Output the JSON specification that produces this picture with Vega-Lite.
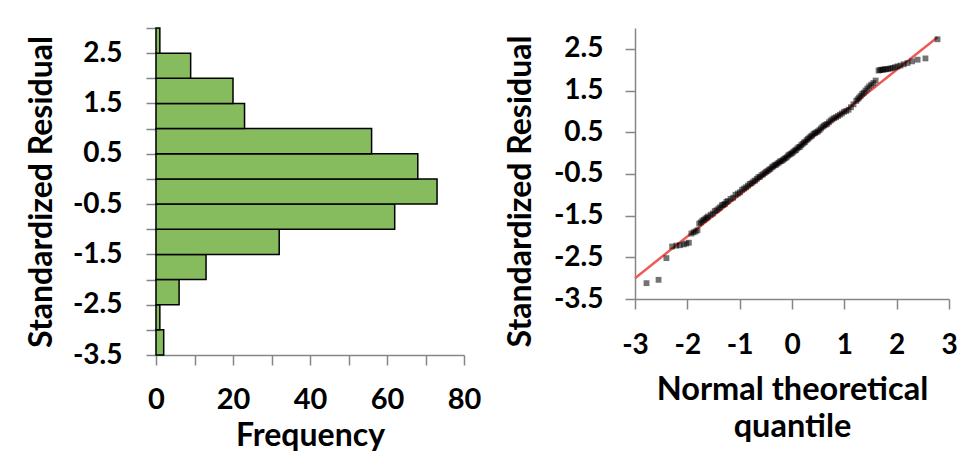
{
  "$schema": "https://vega.github.io/schema/vega-lite/v6.json",
  "padding": {"left": 25, "top": 14, "right": 0, "bottom": 0},
  "background": "white",
  "config": {
    "font": "Lato",
    "view": {"stroke": null},
    "axis": {
      "labelFont": "Lato", "labelFontWeight": "bold", "labelColor": "#000000", "labelFontSize": 28,
      "titleFont": "Lato", "titleFontWeight": "bold", "titleColor": "#000000", "titleFontSize": 32,
      "domainColor": "#868686", "domainWidth": 1.5, "tickColor": "#868686", "tickWidth": 1.5, "tickSize": 10,
      "grid": false, "labelOverlap": false, "labelFlush": false
    }
  },
  "datasets": {
    "hist": [
      {"lo": -3.5, "hi": -3.0, "count": 2},
      {"lo": -3.0, "hi": -2.5, "count": 1},
      {"lo": -2.5, "hi": -2.0, "count": 6},
      {"lo": -2.0, "hi": -1.5, "count": 13},
      {"lo": -1.5, "hi": -1.0, "count": 32},
      {"lo": -1.0, "hi": -0.5, "count": 62},
      {"lo": -0.5, "hi": 0.0, "count": 73},
      {"lo": 0.0, "hi": 0.5, "count": 68},
      {"lo": 0.5, "hi": 1.0, "count": 56},
      {"lo": 1.0, "hi": 1.5, "count": 23},
      {"lo": 1.5, "hi": 2.0, "count": 20},
      {"lo": 2.0, "hi": 2.5, "count": 9},
      {"lo": 2.5, "hi": 3.0, "count": 1}
    ],
    "qq": [
      {"q": -2.78, "r": -3.12}, {"q": -2.55, "r": -3.04}, {"q": -2.40, "r": -2.52},
      {"q": -2.29, "r": -2.24}, {"q": -2.21, "r": -2.22}, {"q": -2.14, "r": -2.21}, {"q": -2.07, "r": -2.19}, {"q": -2.02, "r": -2.17}, {"q": -1.97, "r": -2.15},
      {"q": -1.923, "r": -1.93}, {"q": -1.881, "r": -1.90}, {"q": -1.842, "r": -1.88}, {"q": -1.806, "r": -1.85},
      {"q": -1.773, "r": -1.69}, {"q": -1.741, "r": -1.66}, {"q": -1.711, "r": -1.62}, {"q": -1.682, "r": -1.60}, {"q": -1.654, "r": -1.57}, {"q": -1.628, "r": -1.55}, {"q": -1.603, "r": -1.52},
      {"q": -1.555, "r": -1.48}, {"q": -1.514, "r": -1.45}, {"q": -1.476, "r": -1.39}, {"q": -1.44, "r": -1.37}, {"q": -1.405, "r": -1.33}, {"q": -1.372, "r": -1.30}, {"q": -1.341, "r": -1.25}, {"q": -1.311, "r": -1.24}, {"q": -1.282, "r": -1.22}, {"q": -1.254, "r": -1.17},
      {"q": -1.227, "r": -1.15}, {"q": -1.175, "r": -1.10}, {"q": -1.126, "r": -1.07}, {"q": -1.08, "r": -1.00}, {"q": -1.036, "r": -0.97}, {"q": -0.994, "r": -0.94}, {"q": -0.954, "r": -0.88}, {"q": -0.915, "r": -0.85}, {"q": -0.878, "r": -0.82}, {"q": -0.842, "r": -0.78},
      {"q": -0.806, "r": -0.74}, {"q": -0.772, "r": -0.72}, {"q": -0.739, "r": -0.68}, {"q": -0.706, "r": -0.66}, {"q": -0.674, "r": -0.62}, {"q": -0.643, "r": -0.58}, {"q": -0.613, "r": -0.57}, {"q": -0.583, "r": -0.53}, {"q": -0.553, "r": -0.51}, {"q": -0.524, "r": -0.48},
      {"q": -0.496, "r": -0.45}, {"q": -0.468, "r": -0.43}, {"q": -0.44, "r": -0.40}, {"q": -0.412, "r": -0.38}, {"q": -0.385, "r": -0.34}, {"q": -0.358, "r": -0.32}, {"q": -0.332, "r": -0.29}, {"q": -0.305, "r": -0.28}, {"q": -0.279, "r": -0.25}, {"q": -0.253, "r": -0.23},
      {"q": -0.228, "r": -0.20}, {"q": -0.202, "r": -0.19}, {"q": -0.176, "r": -0.17}, {"q": -0.151, "r": -0.14}, {"q": -0.126, "r": -0.12}, {"q": -0.1, "r": -0.10}, {"q": -0.075, "r": -0.06}, {"q": -0.05, "r": -0.04}, {"q": -0.025, "r": -0.02}, {"q": 0.0, "r": 0.0},
      {"q": 0.025, "r": 0.03}, {"q": 0.05, "r": 0.06}, {"q": 0.075, "r": 0.07}, {"q": 0.1, "r": 0.11}, {"q": 0.126, "r": 0.14}, {"q": 0.151, "r": 0.15}, {"q": 0.176, "r": 0.19}, {"q": 0.202, "r": 0.22}, {"q": 0.228, "r": 0.25}, {"q": 0.253, "r": 0.27},
      {"q": 0.279, "r": 0.31}, {"q": 0.305, "r": 0.34}, {"q": 0.332, "r": 0.37}, {"q": 0.358, "r": 0.40}, {"q": 0.385, "r": 0.42}, {"q": 0.412, "r": 0.46}, {"q": 0.44, "r": 0.48}, {"q": 0.468, "r": 0.50}, {"q": 0.496, "r": 0.52}, {"q": 0.524, "r": 0.55},
      {"q": 0.553, "r": 0.59}, {"q": 0.583, "r": 0.63}, {"q": 0.613, "r": 0.66}, {"q": 0.643, "r": 0.68}, {"q": 0.674, "r": 0.70}, {"q": 0.706, "r": 0.74}, {"q": 0.739, "r": 0.78}, {"q": 0.772, "r": 0.81}, {"q": 0.806, "r": 0.84}, {"q": 0.842, "r": 0.86},
      {"q": 0.878, "r": 0.89}, {"q": 0.915, "r": 0.92}, {"q": 0.954, "r": 0.95}, {"q": 0.994, "r": 0.99}, {"q": 1.036, "r": 1.01}, {"q": 1.08, "r": 1.04}, {"q": 1.126, "r": 1.10}, {"q": 1.175, "r": 1.17}, {"q": 1.227, "r": 1.25}, {"q": 1.254, "r": 1.29},
      {"q": 1.282, "r": 1.33}, {"q": 1.311, "r": 1.37}, {"q": 1.341, "r": 1.42}, {"q": 1.372, "r": 1.45}, {"q": 1.405, "r": 1.50}, {"q": 1.44, "r": 1.55}, {"q": 1.476, "r": 1.60}, {"q": 1.514, "r": 1.64}, {"q": 1.555, "r": 1.68}, {"q": 1.598, "r": 1.74},
      {"q": 1.654, "r": 1.98}, {"q": 1.682, "r": 1.99}, {"q": 1.711, "r": 2.00}, {"q": 1.741, "r": 2.00}, {"q": 1.773, "r": 2.01}, {"q": 1.806, "r": 2.01}, {"q": 1.842, "r": 2.02}, {"q": 1.881, "r": 2.03},
      {"q": 1.923, "r": 2.04}, {"q": 1.968, "r": 2.06}, {"q": 2.018, "r": 2.08}, {"q": 2.072, "r": 2.10}, {"q": 2.136, "r": 2.13}, {"q": 2.207, "r": 2.16}, {"q": 2.294, "r": 2.20}, {"q": 2.40, "r": 2.24},
      {"q": 2.55, "r": 2.27}, {"q": 2.78, "r": 2.73}
    ],
    "fit": [
      {"q": -3.0, "r": -3.0},
      {"q": 2.78, "r": 2.78}
    ]
  },
  "hconcat": [
    {
      "width": 308,
      "height": 327,
      "data": {"name": "hist"},
      "mark": {"type": "rect", "fill": "#86BB5E", "stroke": "#000000", "strokeWidth": 1.5},
      "encoding": {
        "x": {
          "field": "count", "type": "quantitative",
          "scale": {"domain": [0, 80], "nice": false},
          "axis": {
            "title": "Frequency", "values": [0, 10, 20, 30, 40, 50, 60, 70, 80],
            "labelExpr": "datum.value % 20 == 0 ? datum.label : ''",
            "labelPadding": 20, "titlePadding": 6, "labelFontSize": 29
          }
        },
        "x2": {"datum": 0},
        "y": {
          "field": "lo", "type": "quantitative",
          "scale": {"domain": [-3.5, 3.0], "nice": false, "zero": false},
          "axis": {
            "title": "Standardized Residual",
            "values": [-3.5, -3, -2.5, -2, -1.5, -1, -0.5, 0, 0.5, 1, 1.5, 2, 2.5, 3],
            "labelExpr": "abs(datum.value * 2) % 2 == 1 ? replace(format(datum.value, '.1f'), '\u2212', '-') : ''",
            "labelPadding": 24, "titlePadding": 14
          }
        },
        "y2": {"field": "hi"}
      }
    },
    {
      "width": 314,
      "height": 271,
      "layer": [
        {
          "data": {"name": "fit"},
          "mark": {"type": "line", "color": "#EE5A55", "strokeWidth": 2.5},
          "encoding": {
            "x": {"field": "q", "type": "quantitative"},
            "y": {"field": "r", "type": "quantitative"}
          }
        },
        {
          "data": {"name": "qq"},
          "mark": {"type": "point", "shape": "square", "filled": true, "size": 34, "color": "#000000", "opacity": 0.55},
          "encoding": {
            "x": {
              "field": "q", "type": "quantitative",
              "scale": {"domain": [-3, 3], "nice": false},
              "axis": {
                "title": ["Normal theoretical", "quantile"], "values": [-3, -2, -1, 0, 1, 2, 3],
                "labelExpr": "replace(format(datum.value, 'd'), '\u2212', '-')",
                "labelPadding": 22, "titlePadding": 14, "titleFontSize": 32.5, "titleLineHeight": 37
              }
            },
            "y": {
              "field": "r", "type": "quantitative",
              "scale": {"domain": [-3.5, 3.0], "nice": false, "zero": false},
              "axis": {
                "title": "Standardized Residual",
                "values": [-3.5, -3, -2.5, -2, -1.5, -1, -0.5, 0, 0.5, 1, 1.5, 2, 2.5, 3],
                "labelExpr": "abs(datum.value * 2) % 2 == 1 ? replace(format(datum.value, '.1f'), '\u2212', '-') : ''",
                "labelPadding": 22, "titlePadding": 16, "titleY": 163
              }
            }
          }
        }
      ]
    }
  ],
  "spacing": 23
}
